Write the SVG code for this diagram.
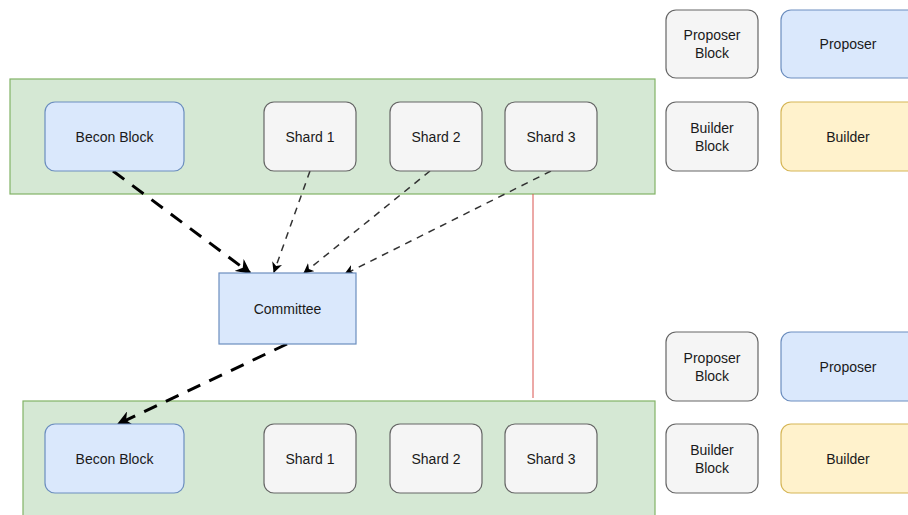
<svg xmlns="http://www.w3.org/2000/svg" width="908" height="515" viewBox="0 0 908 515">
<style>
text{font-family:"Liberation Sans",Arial,sans-serif;font-size:14px;fill:#1a1a1a;text-anchor:middle;dominant-baseline:central}
.grp{fill:#d5e8d4;stroke:#82b366;stroke-width:1.2}
.blue{fill:#dae8fc;stroke:#6c8ebf;stroke-width:1.2}
.gray{fill:#f5f5f5;stroke:#666666;stroke-width:1.2}
.yel{fill:#fff2cc;stroke:#d6b656;stroke-width:1.2}
.thick{stroke:#000;stroke-width:3;stroke-dasharray:14 10;fill:none}
.thin{stroke:#333;stroke-width:1.5;stroke-dasharray:7 6;fill:none}
</style>
<defs>
<marker id="ab" viewBox="0 0 10 10" refX="9" refY="5" markerWidth="5" markerHeight="5" orient="auto" markerUnits="strokeWidth"><path d="M0,0 L10,5 L0,10 L3,5 z" fill="#000"/></marker>
<marker id="as" viewBox="0 0 10 10" refX="9" refY="5" markerWidth="7" markerHeight="7" orient="auto" markerUnits="strokeWidth"><path d="M0,0 L10,5 L0,10 L3,5 z" fill="#000"/></marker>
</defs>
<rect width="908" height="515" fill="#fff"/>
<g id="group-top"><rect class="grp" x="10" y="79" width="645" height="115"/></g>
<g id="group-bottom"><rect class="grp" x="23" y="401" width="632" height="120"/></g>
<g id="connectors">
<line x1="533" y1="194" x2="533" y2="398" stroke="#d9534f" stroke-width="1"/>
<line class="thick" x1="113" y1="171" x2="250" y2="273" marker-end="url(#ab)"/>
<line class="thin" x1="310" y1="171" x2="274" y2="272" marker-end="url(#as)"/>
<line class="thin" x1="430" y1="171" x2="304" y2="273" marker-end="url(#as)"/>
<line class="thin" x1="551" y1="171" x2="345" y2="274" marker-end="url(#as)"/>
<line class="thick" x1="287" y1="344" x2="118" y2="424" marker-end="url(#ab)"/>
</g>
<g id="beacon-top"><rect class="blue" x="45" y="102" width="139" height="69" rx="10"/><text x="114.5" y="136.5">Becon Block</text></g>
<g id="shard1-top"><rect class="gray" x="264" y="102" width="92" height="69" rx="10"/><text x="310" y="136.5">Shard 1</text></g>
<g id="shard2-top"><rect class="gray" x="390" y="102" width="92" height="69" rx="10"/><text x="436" y="136.5">Shard 2</text></g>
<g id="shard3-top"><rect class="gray" x="505" y="102" width="92" height="69" rx="10"/><text x="551" y="136.5">Shard 3</text></g>
<g id="committee"><rect class="blue" x="219" y="273" width="137" height="71"/><text x="287.5" y="308.5">Committee</text></g>
<g id="beacon-bottom"><rect class="blue" x="45" y="424" width="139" height="69" rx="10"/><text x="114.5" y="458.5">Becon Block</text></g>
<g id="shard1-bottom"><rect class="gray" x="264" y="424" width="92" height="69" rx="10"/><text x="310" y="458.5">Shard 1</text></g>
<g id="shard2-bottom"><rect class="gray" x="390" y="424" width="92" height="69" rx="10"/><text x="436" y="458.5">Shard 2</text></g>
<g id="shard3-bottom"><rect class="gray" x="505" y="424" width="92" height="69" rx="10"/><text x="551" y="458.5">Shard 3</text></g>
<g id="proposer-block-top"><rect class="gray" x="666" y="10" width="92" height="68" rx="10"/><text x="712" y="35">Proposer</text><text x="712" y="53">Block</text></g>
<g id="proposer-top"><rect class="blue" x="781" y="10" width="140" height="68" rx="10"/><text x="848" y="44">Proposer</text></g>
<g id="builder-block-top"><rect class="gray" x="666" y="102" width="92" height="69" rx="10"/><text x="712" y="128">Builder</text><text x="712" y="146">Block</text></g>
<g id="builder-top"><rect class="yel" x="781" y="102" width="140" height="69" rx="10"/><text x="848" y="136.5">Builder</text></g>
<g id="proposer-block-bottom"><rect class="gray" x="666" y="332" width="92" height="69" rx="10"/><text x="712" y="358">Proposer</text><text x="712" y="376">Block</text></g>
<g id="proposer-bottom"><rect class="blue" x="781" y="332" width="140" height="69" rx="10"/><text x="848" y="366.5">Proposer</text></g>
<g id="builder-block-bottom"><rect class="gray" x="666" y="424" width="92" height="69" rx="10"/><text x="712" y="450">Builder</text><text x="712" y="468">Block</text></g>
<g id="builder-bottom"><rect class="yel" x="781" y="424" width="140" height="69" rx="10"/><text x="848" y="458.5">Builder</text></g>
</svg>
